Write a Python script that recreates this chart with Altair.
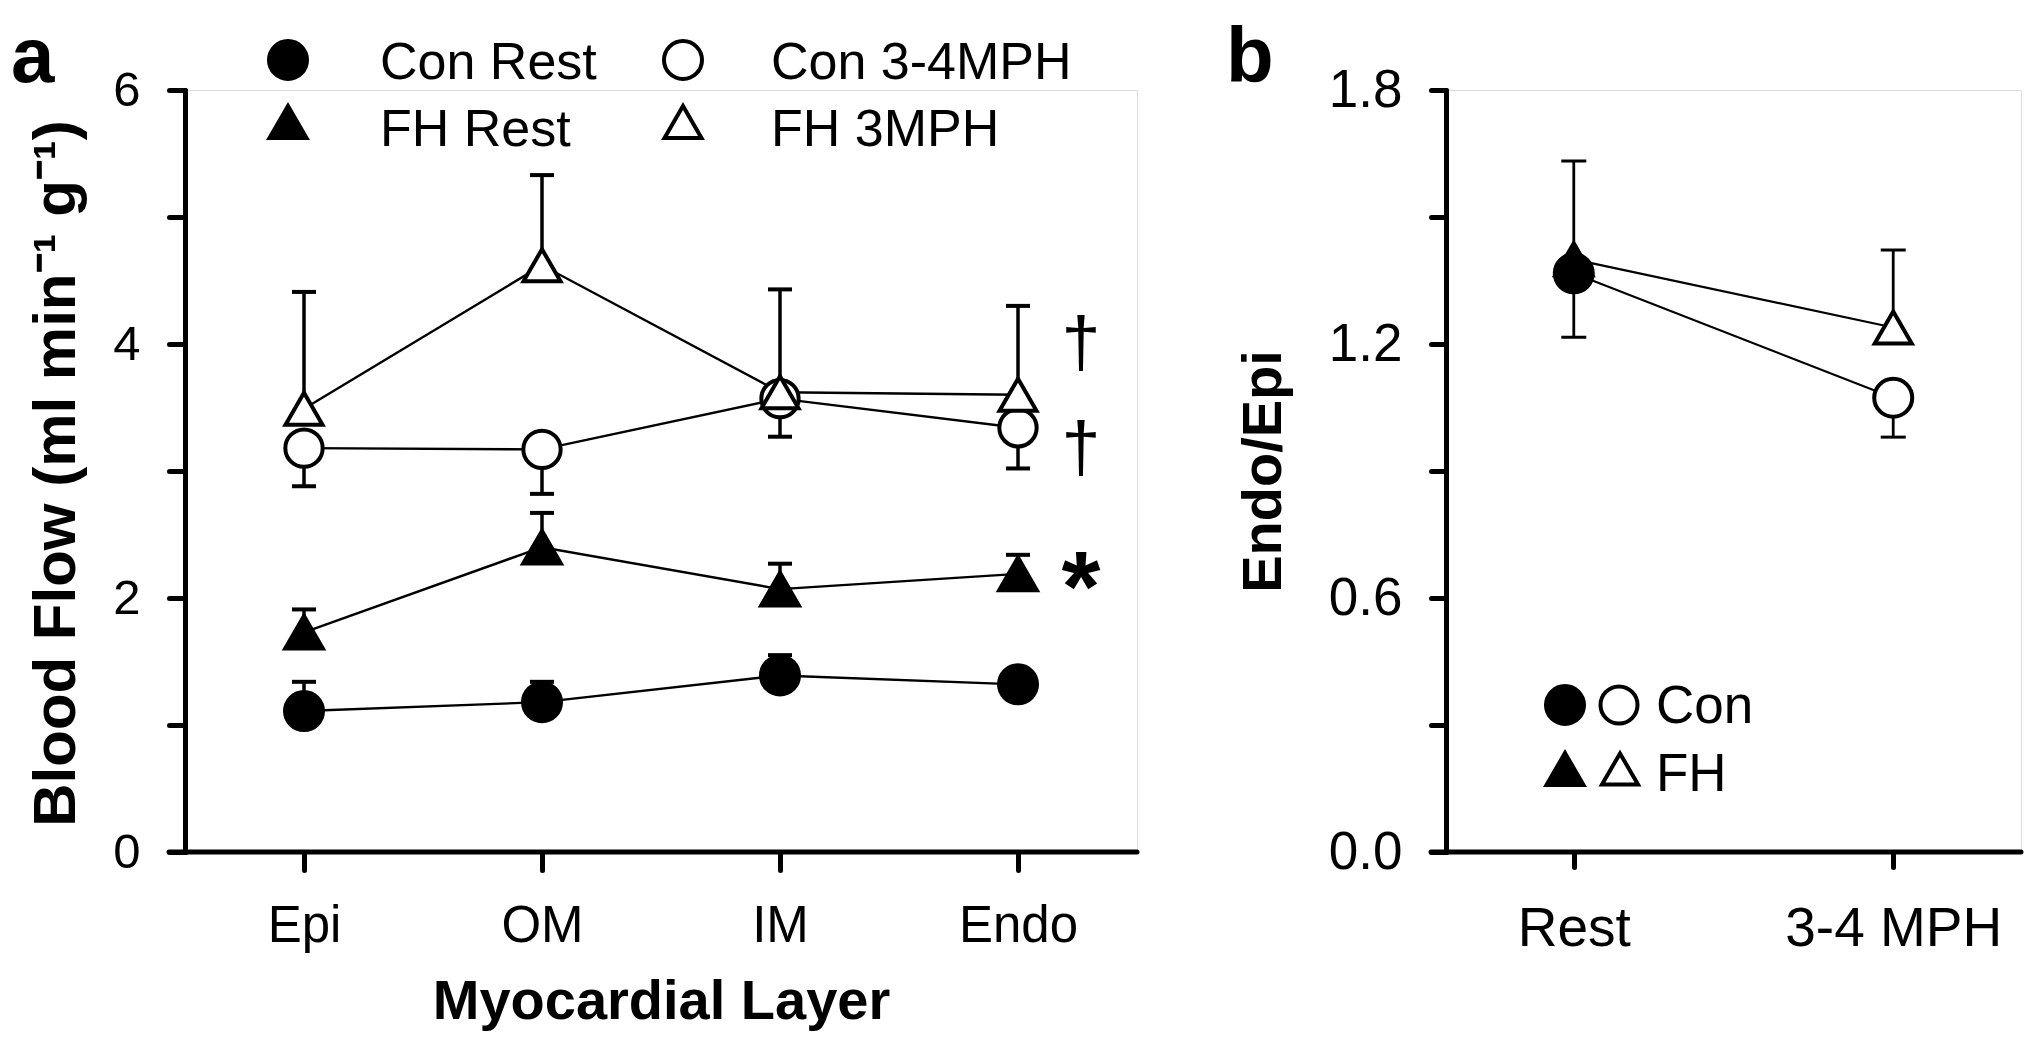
import altair as alt
import pandas as pd

FONT = "Liberation Sans, Arial, Helvetica, sans-serif"

# ---------------- data: panel a ----------------
layers_a = ["Epi", "OM", "IM", "Endo"]
series_a = ["Con Rest", "FH Rest", "Con 3-4MPH", "FH 3MPH"]
con_rest = [1.11, 1.18, 1.39, 1.32]
con_rest_err = [1.34, 1.34, 1.55, 1.40]
fh_rest = [1.73, 2.40, 2.07, 2.19]
fh_rest_err = [1.91, 2.67, 2.27, 2.34]
con_ex = [3.18, 3.17, 3.57, 3.34]
con_ex_err = [2.88, 2.82, 3.27, 3.02]
fh_ex = [3.49, 4.62, 3.62, 3.60]
fh_ex_err = [4.41, 5.33, 4.43, 4.30]

# ---------------- data: panel b ----------------
conditions_b = ["Rest", "3-4 MPH"]
groups_b = ["Con", "FH"]
con_b = [1.367, 1.073]
con_b_err = [1.216, 0.980]
fh_b = [1.400, 1.239]
fh_b_err = [1.632, 1.422]

rows_a = []
for s, vals, errs in zip(series_a, [con_rest, fh_rest, con_ex, fh_ex],
                         [con_rest_err, fh_rest_err, con_ex_err, fh_ex_err]):
    for i, (l, v, e) in enumerate(zip(layers_a, vals, errs)):
        rows_a.append({"layer": l, "series": s, "value": v, "err": e, "idx": i})
df_a = pd.DataFrame(rows_a)

rows_b = []
for g, vals, errs in zip(groups_b, [con_b, fh_b], [con_b_err, fh_b_err]):
    for i, (c, v, e) in enumerate(zip(conditions_b, vals, errs)):
        rows_b.append({"cond": c, "group": g, "value": v, "err": e, "idx": i})
df_b = pd.DataFrame(rows_b)

one = pd.DataFrame({"k": [0]})

W_A, W_B, H = 952, 575, 762


def sym(shape, fill, x, y, size):
    return alt.Chart(one).mark_point(
        shape=shape, fill=fill, filled=True, stroke="black", strokeWidth=4,
        size=size, opacity=1
    ).encode(x=alt.value(x), y=alt.value(y))


def lbl(text, x, y, size, align="left", baseline="middle", weight="normal"):
    return alt.Chart(one).mark_text(
        text=text, align=align, baseline=baseline, font=FONT, fontSize=size,
        fontWeight=weight, color="black"
    ).encode(x=alt.value(x), y=alt.value(y))


def hrule(x1, x2, y):
    return alt.Chart(one).mark_rule(color="black", strokeWidth=5, strokeCap="round").encode(
        x=alt.value(x1), x2=alt.value(x2), y=alt.value(y))


# ---------------- panel a ----------------
xa_axis = alt.Axis(title="Myocardial Layer", domain=False, tickSize=18, tickWidth=5,
                   tickColor="black", tickCap="round", labelFont=FONT, labelFontSize=51,
                   labelColor="black", labelPadding=31, labelAngle=0, labelLimit=0,
                   titleFont=FONT, titleFontSize=56, titleFontWeight="bold",
                   titleColor="black", titleY=166, titleBaseline="alphabetic")
xa_scale = alt.Scale(type="point", padding=0.5)
ya_axis = alt.Axis(values=list(range(7)),
                   labelExpr="datum.value % 2 == 0 ? datum.label : ''",
                   title="Blood Flow (ml min\u207b\u00b9 g\u207b\u00b9)", titleFont=FONT,
                   titleFontSize=60, titleFontWeight="bold", titleColor="black",
                   titleX=-111, titleY=383, titleBaseline="alphabetic", titleAngle=270,
                   labelFont=FONT, labelFontSize=49, labelColor="black", labelPadding=29,
                   tickSize=16, tickWidth=5, tickColor="black", tickCap="round",
                   domainWidth=5, domainColor="black", domainCap="round", grid=False)
ya_scale = alt.Scale(domain=[0, 6], nice=False)


def XA():
    return alt.X("layer:N", sort=layers_a, scale=xa_scale, axis=xa_axis)


def YA(field):
    return alt.Y(field, scale=ya_scale, axis=ya_axis)


base_a = alt.Chart(df_a)
lines_a = base_a.mark_line(color="black").encode(
    x=XA(), y=YA("value:Q"), detail="series:N", order="idx:Q",
    strokeWidth=alt.StrokeWidth("series:N", scale=alt.Scale(domain=series_a, range=[2.4, 2.4, 3.8, 3.8]), legend=None))
err_a = base_a.mark_rule(color="black", strokeWidth=3.5, opacity=1).encode(
    x=XA(), y=YA("value:Q"), y2="err:Q")
caps_a = base_a.mark_tick(color="black", size=24, thickness=4, orient="horizontal", opacity=1).encode(
    x=XA(), y=YA("err:Q"))
pts_a = base_a.mark_point(filled=True, stroke="black", strokeWidth=4, opacity=1).encode(
    x=XA(), y=YA("value:Q"),
    shape=alt.Shape("series:N", scale=alt.Scale(domain=series_a, range=["circle", "triangle-up", "circle", "triangle-up"]), legend=None),
    fill=alt.Fill("series:N", scale=alt.Scale(domain=series_a, range=["black", "black", "white", "white"]), legend=None),
    size=alt.Size("series:N", scale=alt.Scale(domain=series_a, range=[1444, 1369, 1444, 1369]), legend=None))


def ann(series, text, dy, size, weight="normal"):
    d = df_a[(df_a.series == series) & (df_a.layer == layers_a[-1])]
    return alt.Chart(d).mark_text(text=text, dx=63, dy=dy, fontSize=size, font=FONT,
                                  fontWeight=weight, color="black", baseline="middle",
                                  align="center").encode(x=XA(), y=YA("value:Q"))


panel_a = alt.layer(
    err_a, caps_a, lines_a, pts_a,
    ann("FH 3MPH", "\u2020", -50, 70),
    ann("Con 3-4MPH", "\u2020", 22, 70),
    ann("FH Rest", "*", 17, 100, "bold"),
    hrule(-16, W_A, H),
    sym("circle", "black", 103, -30, 1444),
    lbl("Con Rest", 195, -27, 52),
    sym("circle", "white", 498, -30, 1444),
    lbl("Con 3-4MPH", 586, -27, 52),
    sym("triangle-up", "black", 103, 32, 1369),
    lbl("FH Rest", 195, 40, 52),
    sym("triangle-up", "white", 498, 32, 1369),
    lbl("FH 3MPH", 586, 40, 52),
    lbl("a", -174, -8, 78, baseline="alphabetic", weight="bold"),
).properties(width=W_A, height=H)

# ---------------- panel b ----------------
xb_axis = alt.Axis(title=None, domain=False, tickSize=15, tickWidth=5, tickColor="black",
                   tickCap="round", labelFont=FONT, labelFontSize=55, labelColor="black",
                   labelPadding=35, labelAngle=0, labelLimit=0)
xb_scale = alt.Scale(type="point", padding=0.4)
yb_axis = alt.Axis(values=[0, 0.3, 0.6, 0.9, 1.2, 1.5, 1.8],
                   labelExpr="round(datum.value * 10) % 6 == 0 ? format(datum.value, '.1f') : ''",
                   title="Endo/Epi", titleFont=FONT, titleFontSize=56, titleFontWeight="bold",
                   titleColor="black", titleX=-166, titleY=381, titleBaseline="alphabetic",
                   titleAngle=270, labelFont=FONT, labelFontSize=53, labelColor="black",
                   labelPadding=29, tickSize=15, tickWidth=5, tickColor="black",
                   tickCap="round", domainWidth=5, domainColor="black", domainCap="round",
                   grid=False)
yb_scale = alt.Scale(domain=[0, 1.8], nice=False)


def XB():
    return alt.X("cond:N", sort=conditions_b, scale=xb_scale, axis=xb_axis)


def YB(field):
    return alt.Y(field, scale=yb_scale, axis=yb_axis)


base_b = alt.Chart(df_b)
lines_b = base_b.mark_line(color="black", strokeWidth=2.2).encode(
    x=XB(), y=YB("value:Q"), detail="group:N", order="idx:Q")
err_b = base_b.mark_rule(color="black", strokeWidth=2.8, opacity=1).encode(
    x=XB(), y=YB("value:Q"), y2="err:Q")
caps_b = base_b.mark_tick(color="black", size=25, thickness=3, orient="horizontal", opacity=1).encode(
    x=XB(), y=YB("err:Q"))
pts_b = base_b.mark_point(filled=True, stroke="black", strokeWidth=4, opacity=1).encode(
    x=XB(), y=YB("value:Q"),
    shape=alt.Shape("group:N", scale=alt.Scale(domain=groups_b, range=["circle", "triangle-up"]), legend=None),
    fill=alt.Fill("cond:N", scale=alt.Scale(domain=conditions_b, range=["black", "white"]), legend=None),
    size=alt.Size("group:N", scale=alt.Scale(domain=groups_b, range=[1444, 1369]), legend=None))

panel_b = alt.layer(
    err_b, caps_b, lines_b, pts_b,
    hrule(-15, W_B, H),
    sym("circle", "black", 119, 615, 1444),
    sym("circle", "white", 173, 615, 1369),
    lbl("Con", 210, 617, 53),
    sym("triangle-up", "black", 119, 679, 1369),
    sym("triangle-up", "white", 174, 679, 1300),
    lbl("FH", 210, 685, 53),
    lbl("b", -220, -8, 78, baseline="alphabetic", weight="bold"),
).properties(width=W_B, height=H)

chart = alt.hconcat(panel_a, panel_b, spacing=309, bounds="flush").resolve_scale(
    fill="independent", shape="independent", size="independent", strokeWidth="independent"
).properties(
    padding={"left": 177, "top": 82, "right": 1843, "bottom": 955},
    autosize=alt.AutoSizeParams(type="none"),
).configure_view(stroke=None).configure(background="white")

chart.save("out.html", embed_options={"renderer": "svg", "actions": False})
